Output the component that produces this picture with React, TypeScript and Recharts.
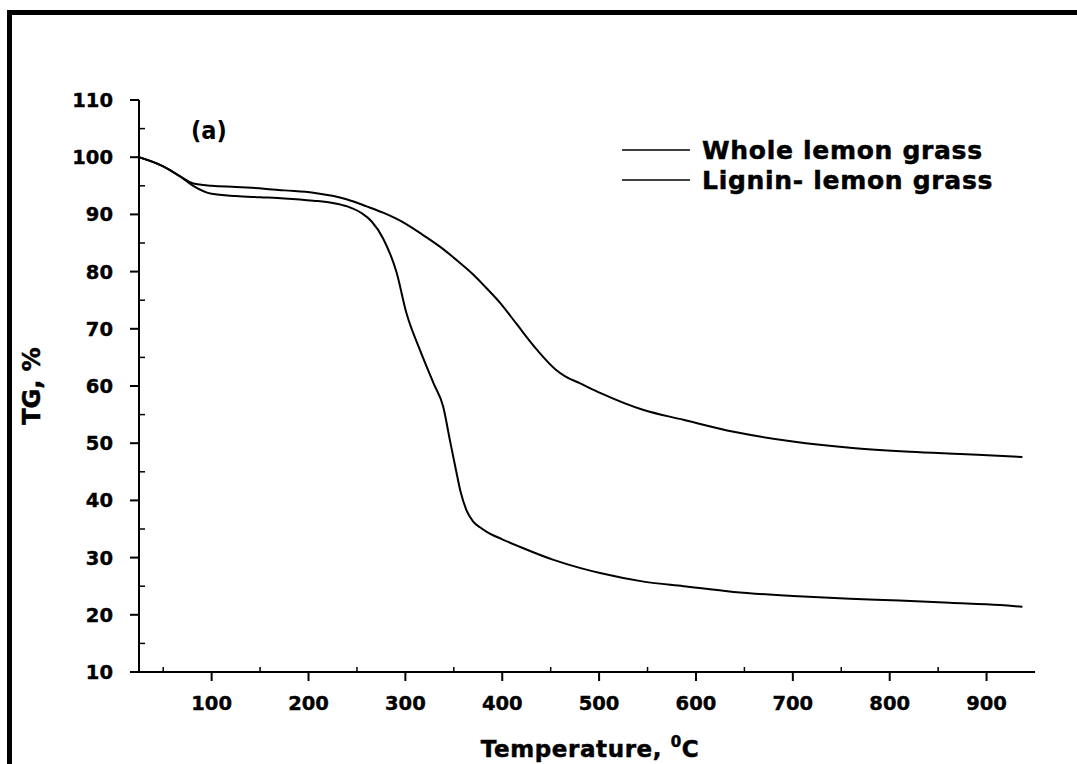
import React from 'react';
import { LineChart, Line, XAxis, YAxis, Legend } from 'recharts';

// Whole lemon grass (steep decomposition, low residue)
const wholeT = [25, 50, 67, 81, 100, 125, 150, 175, 205, 225, 240, 255, 265, 277, 291, 301, 315, 329, 339, 346, 352, 357, 363, 370, 377, 384, 400, 418, 453, 480, 501, 546, 587, 639, 700, 759, 810, 862, 914, 937];
const wholeTG = [100, 98.4, 96.7, 95.0, 93.6, 93.2, 93.0, 92.8, 92.4, 92.0, 91.4, 90.2, 88.8, 85.8, 79.8, 72.8, 66.3, 60.5, 56.4, 50.5, 45.5, 41.5, 38.3, 36.3, 35.3, 34.5, 33.2, 31.9, 29.6, 28.2, 27.3, 25.8, 25.0, 24.0, 23.3, 22.8, 22.5, 22.1, 21.7, 21.4];

// Lignin- lemon grass (gentle decomposition, high residue)
const ligninT = [25, 50, 67, 81, 100, 125, 154, 175, 205, 226, 240, 260, 277, 290, 300, 319, 340, 353, 370, 381, 398, 415, 436, 455, 465, 480, 501, 546, 587, 639, 700, 759, 821, 873, 937];
const ligninTG = [100, 98.4, 96.7, 95.4, 95.0, 94.8, 94.5, 94.2, 93.8, 93.2, 92.6, 91.4, 90.3, 89.3, 88.4, 86.3, 83.8, 82.0, 79.5, 77.6, 74.5, 70.8, 66.3, 62.9, 61.7, 60.5, 58.8, 55.8, 54.1, 52.0, 50.3, 49.2, 48.5, 48.1, 47.6];

const seriesNames = ['Whole lemon grass', 'Lignin- lemon grass'];

const xDomain = [25, 950];
const yDomain = [10, 110];
const xMajorTicks = [100, 200, 300, 400, 500, 600, 700, 800, 900];
const xMinorTicks = [50, 150, 250, 350, 450, 550, 650, 750, 850];
const yMajorTicks = [10, 20, 30, 40, 50, 60, 70, 80, 90, 100, 110];
const yMinorTicks = [15, 25, 35, 45, 55, 65, 75, 85, 95, 105];

const wholeData = wholeT.map((t, i) => ({ t, tg: wholeTG[i] }));
const ligninData = ligninT.map((t, i) => ({ t, tg: ligninTG[i] }));

const FONT = '"DejaVu Sans", "Liberation Sans", Arial, sans-serif';
const isMajorX = (v: number) => xMajorTicks.includes(v);
const isMajorY = (v: number) => yMajorTicks.includes(v);

const BottomTick = (p: any) => {
  const v = p.payload.value;
  if (isMajorX(v)) {
    return (
      <g>
        <line x1={p.x} x2={p.x} y1={p.y} y2={p.y + 9} stroke="#000" strokeWidth={2} />
        <text x={p.x} y={p.y + 38} textAnchor="middle" fontFamily={FONT} fontWeight="bold" fontSize={19.5} stroke="#000" strokeWidth={0.4} fill="#000">{v}</text>
      </g>
    );
  }
  return <line x1={p.x} x2={p.x} y1={p.y} y2={p.y - 5} stroke="#000" strokeWidth={1.5} />;
};

const LeftTick = (p: any) => {
  const v = p.payload.value;
  if (isMajorY(v)) {
    return (
      <g>
        <line x1={p.x - 9} x2={p.x} y1={p.y} y2={p.y} stroke="#000" strokeWidth={2} />
        <text x={p.x - 26} y={p.y} dy="0.36em" textAnchor="end" fontFamily={FONT} fontWeight="bold" fontSize={19.5} stroke="#000" strokeWidth={0.4} fill="#000">{v}</text>
      </g>
    );
  }
  return <line x1={p.x} x2={p.x + 6} y1={p.y} y2={p.y} stroke="#000" strokeWidth={1.5} />;
};

const TopTick = (p: any) => <line x1={p.x} x2={p.x} y1={p.y} y2={p.y + 5} stroke="#000" strokeWidth={1.5} />;
const RightTick = (p: any) => <line x1={p.x - 6} x2={p.x} y1={p.y} y2={p.y} stroke="#000" strokeWidth={1.5} />;

const renderLegend = (props: any) => {
  const payload = props.payload || [];
  const ordered = seriesNames
    .map((n) => payload.find((e: any) => e.value === n))
    .filter(Boolean);
  return (
    <svg width={400} height={72}>
      {ordered.map((e: any, i: number) => (
        <g key={i}>
          <line x1={7} x2={75} y1={20 + i * 30} y2={20 + i * 30} stroke="#000" strokeWidth={1.5} />
          <text x={87} y={29 + i * 30} fontFamily={FONT} fontWeight="bold" fontSize={25} letterSpacing={0.7} stroke="#000" strokeWidth={0.5} fill="#000">{e.value}</text>
        </g>
      ))}
    </svg>
  );
};

const XLabel = (props: any) => {
  const vb = props.viewBox;
  return (
    <text x={vb.x + vb.width / 2 + 3} y={vb.y + 85} textAnchor="middle" fontFamily={FONT} fontWeight="bold" fontSize={23} letterSpacing={0.6} stroke="#000" strokeWidth={0.5} fill="#000">
      Temperature, <tspan fontSize={15} dy={-10}>0</tspan><tspan dy={10}>C</tspan>
    </text>
  );
};

const YLabel = (props: any) => {
  const vb = props.viewBox;
  const cx = vb.x + 40;
  const cy = vb.y + vb.height / 2;
  return (
    <text x={cx} y={cy} transform={`rotate(-90 ${cx} ${cy})`} textAnchor="middle" fontFamily={FONT} fontWeight="bold" fontSize={24} stroke="#000" strokeWidth={0.5} fill="#000">
      TG, %
    </text>
  );
};

export default function App() {
  return (
    <div style={{ position: 'absolute', left: 0, top: 0, width: 1077, height: 764, background: '#fff', overflow: 'hidden' }}>
      <div style={{ position: 'absolute', left: 7, top: 10, width: 1070, height: 754, borderTop: '5px solid #000', borderLeft: '5px solid #000', boxSizing: 'border-box' }} />
      <div style={{ position: 'absolute', left: 191, top: 116, fontFamily: '"Liberation Sans Narrow", "DejaVu Sans Condensed", "DejaVu Sans", sans-serif', fontWeight: 'bold', fontSize: 25, lineHeight: '30px', color: '#000' }}>(a)</div>
      <LineChart width={1077} height={764} margin={{ top: 100, right: 42, bottom: 0, left: 0 }} style={{ position: 'absolute', left: 0, top: 0 }}>
        <XAxis
          xAxisId="b"
          dataKey="t"
          type="number"
          orientation="bottom"
          domain={xDomain}
          ticks={[...xMinorTicks, ...xMajorTicks].sort((a, b) => a - b)}
          interval={0}
          allowDataOverflow
          height={92}
          tickSize={0}
          tickMargin={0}
          tickLine={false}
          axisLine={{ stroke: '#000', strokeWidth: 2 }}
          tick={(p: any) => <BottomTick {...p} />}
          label={<XLabel />}
        />
        <XAxis
          xAxisId="top"
          type="number"
          orientation="top"
          domain={xDomain}
          ticks={xMinorTicks}
          interval={0}
          allowDataOverflow
          height={0}
          tickSize={0}
          tickMargin={0}
          tickLine={false}
          axisLine={{ stroke: '#000', strokeWidth: 2 }}
          tick={(p: any) => <TopTick {...p} />}
        />
        <YAxis
          yAxisId="l"
          type="number"
          orientation="left"
          domain={yDomain}
          ticks={[...yMinorTicks, ...yMajorTicks].sort((a, b) => a - b)}
          interval={0}
          allowDataOverflow
          width={139}
          tickSize={0}
          tickMargin={0}
          tickLine={false}
          axisLine={{ stroke: '#000', strokeWidth: 2 }}
          tick={(p: any) => <LeftTick {...p} />}
          label={<YLabel />}
        />
        <YAxis
          yAxisId="r"
          type="number"
          orientation="right"
          domain={yDomain}
          ticks={yMinorTicks}
          interval={0}
          allowDataOverflow
          width={0}
          tickSize={0}
          tickMargin={0}
          tickLine={false}
          axisLine={{ stroke: '#000', strokeWidth: 2 }}
          tick={(p: any) => <RightTick {...p} />}
        />
        <Legend
          layout="vertical"
          align="center"
          verticalAlign="middle"
          itemSorter={(item: any) => seriesNames.indexOf(item.value)}
          content={renderLegend}
          wrapperStyle={{ position: 'absolute', left: 615, top: 130, width: 400, height: 72 }}
        />
        <Line xAxisId="b" yAxisId="l" data={wholeData} dataKey="tg" name={seriesNames[0]} type="monotone" stroke="#000" strokeWidth={2} dot={false} isAnimationActive={false} />
        <Line xAxisId="b" yAxisId="l" data={ligninData} dataKey="tg" name={seriesNames[1]} type="monotone" stroke="#000" strokeWidth={2} dot={false} isAnimationActive={false} />
      </LineChart>
    </div>
  );
}
